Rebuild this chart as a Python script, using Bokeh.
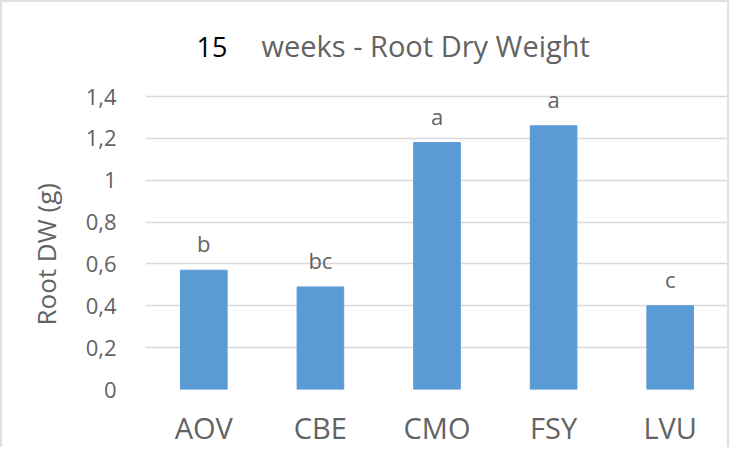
from bokeh.plotting import figure
from bokeh.models import Range1d, FixedTicker, Label, Title
from bokeh.core.properties import value
from bokeh.embed import file_html
from bokeh.resources import INLINE

# ---- data ----
categories = ["AOV", "CBE", "CMO", "FSY", "LVU"]
root_dw = [0.57, 0.49, 1.18, 1.26, 0.40]
letters = ["b", "bc", "a", "a", "c"]
y_ticks = [0, 0.2, 0.4, 0.6, 0.8, 1.0, 1.2, 1.4]
y_tick_labels = ["0", "0,2", "0,4", "0,6", "0,8", "1", "1,2", "1,4"]
title_number = "15"
title_rest = "weeks - Root Dry Weight"
y_label = "Root DW (g)"

FONT = "Open Sans"
GRAY = "#636363"
BLUE = "#5B9BD5"
GRID = "#D9D9D9"

# frame extends above the 1.4 gridline so that the title sits inside it
Y_TOP = 1.4 * 369 / 288.3

p = figure(x_range=categories, y_range=Range1d(0, Y_TOP),
           width=729, height=447,
           output_backend="svg", toolbar_location=None,
           min_border_left=143, min_border_right=3,
           min_border_top=12, min_border_bottom=59)
p.styles = {"border-left": "2px solid #e0e0e0", "border-top": "2px solid #e0e0e0",
            "border-right": "2px solid #e0e0e0"}
p.outline_line_color = None
p.background_fill_color = "white"
p.border_fill_color = "white"

p.vbar(x=categories, top=root_dw, width=0.4, color=BLUE)

p.text(x=categories, y=root_dw, text=letters, y_offset=-27,
       text_align="center", text_baseline="alphabetic",
       text_font=value(FONT), text_font_size="22px", text_color=GRAY)

# axes
p.xaxis.axis_line_color = None
p.xaxis.major_tick_line_color = None
p.xaxis.minor_tick_line_color = None
p.xaxis.major_tick_out = 0
p.xaxis.major_tick_in = 0
p.xaxis.axis_label_standoff = 0
p.xaxis.major_label_text_font = FONT
p.xaxis.major_label_text_font_size = "29px"
p.xaxis.major_label_text_color = GRAY
p.xaxis.major_label_standoff = 18

p.yaxis.ticker = FixedTicker(ticks=y_ticks)
p.yaxis.major_label_overrides = {t: l for t, l in zip(y_ticks, y_tick_labels)}
p.yaxis.axis_line_color = None
p.yaxis.major_tick_line_color = None
p.yaxis.minor_tick_line_color = None
p.yaxis.major_tick_out = 0
p.yaxis.major_tick_in = 0
p.yaxis.axis_label_standoff = 0
p.yaxis.major_label_text_font = FONT
p.yaxis.major_label_text_font_size = "22px"
p.yaxis.major_label_text_color = GRAY
p.yaxis.major_label_standoff = 29

# y-axis title, placed along the 0..1.4 part of the axis
p.add_layout(Title(text=y_label, align="left", offset=64, standoff=37,
                   text_font=FONT, text_font_size="26px", text_font_style="normal",
                   text_color=GRAY), "left")

p.xgrid.grid_line_color = None
p.ygrid.ticker = FixedTicker(ticks=y_ticks)
p.ygrid.grid_line_color = GRID
p.ygrid.grid_line_width = 1.5

# title in two colours
p.add_layout(Label(x=51, y=343, x_units="screen", y_units="screen", text=title_number,
                   text_font=FONT, text_font_size="27px", text_color="black",
                   text_baseline="alphabetic"))
p.add_layout(Label(x=116, y=344, x_units="screen", y_units="screen", text=title_rest,
                   text_font=FONT, text_font_size="29px", text_color=GRAY,
                   text_baseline="alphabetic"))

open("out.html", "w").write(file_html(p, INLINE))
